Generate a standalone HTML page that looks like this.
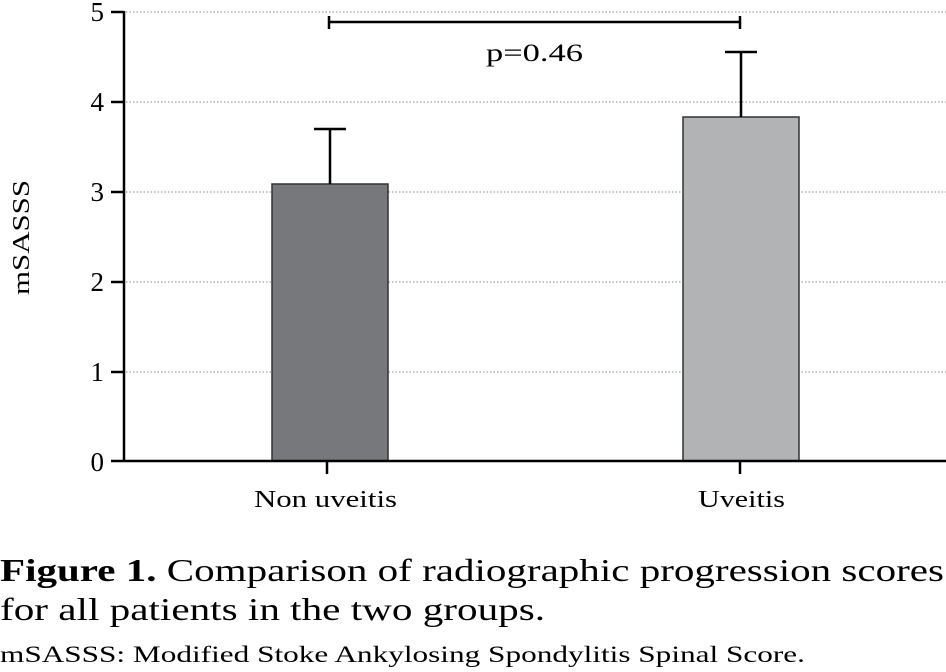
<!DOCTYPE html>
<html><head><style>
body{margin:0;background:#fff;}
svg{display:block;font-family:"Liberation Serif",serif;}
</style></head><body>
<svg width="946" height="672" xmlns="http://www.w3.org/2000/svg">
<g stroke="#888" stroke-width="1" stroke-dasharray="1.5,2">
<line x1="126" y1="12" x2="946" y2="12"/>
<line x1="126" y1="102" x2="946" y2="102"/>
<line x1="126" y1="192" x2="946" y2="192"/>
<line x1="126" y1="282" x2="946" y2="282"/>
<line x1="126" y1="372" x2="946" y2="372"/>
</g>
<rect x="272" y="184" width="116" height="277" fill="#77787b" stroke="#333" stroke-width="1.5"/>
<rect x="683" y="117" width="116" height="344" fill="#b1b3b5" stroke="#333" stroke-width="1.5"/>
<g stroke="#000" stroke-width="2.5" fill="none">
<line x1="330" y1="184" x2="330" y2="129"/><line x1="314" y1="129" x2="346" y2="129"/>
<line x1="741" y1="117" x2="741" y2="52"/><line x1="725" y1="52" x2="757" y2="52"/>
<line x1="329" y1="22" x2="740" y2="22"/><line x1="329" y1="16" x2="329" y2="29"/><line x1="740" y1="16" x2="740" y2="29"/>
<line x1="124" y1="11" x2="124" y2="462"/>
<line x1="111" y1="461" x2="946" y2="461"/>
<line x1="111" y1="12" x2="124" y2="12"/><line x1="111" y1="102" x2="124" y2="102"/><line x1="111" y1="192" x2="124" y2="192"/><line x1="111" y1="282" x2="124" y2="282"/><line x1="111" y1="372" x2="124" y2="372"/>
<line x1="327" y1="461" x2="327" y2="474"/><line x1="740" y1="461" x2="740" y2="474"/>
</g>
<g font-size="27" text-anchor="end">
<text x="104" y="21">5</text><text x="104" y="111">4</text><text x="104" y="201">3</text><text x="104" y="291">2</text><text x="104" y="381">1</text><text x="104" y="471">0</text>
</g>
<text x="486" y="61" font-size="25" textLength="97" lengthAdjust="spacingAndGlyphs">p=0.46</text>
<text transform="translate(29,295) rotate(-90)" font-size="24" textLength="115" lengthAdjust="spacingAndGlyphs">mSASSS</text>
<text x="254" y="507" font-size="24" textLength="143" lengthAdjust="spacingAndGlyphs">Non uveitis</text>
<text x="698" y="507" font-size="24" textLength="87" lengthAdjust="spacingAndGlyphs">Uveitis</text>
<text x="0" y="581" font-size="32" textLength="944" lengthAdjust="spacingAndGlyphs"><tspan font-weight="bold">Figure 1.</tspan> Comparison of radiographic progression scores</text>
<text x="0" y="620" font-size="32" textLength="545" lengthAdjust="spacingAndGlyphs">for all patients in the two groups.</text>
<text x="0" y="662" font-size="23" textLength="805" lengthAdjust="spacingAndGlyphs">mSASSS: Modified Stoke Ankylosing Spondylitis Spinal Score.</text>
</svg>
</body></html>
